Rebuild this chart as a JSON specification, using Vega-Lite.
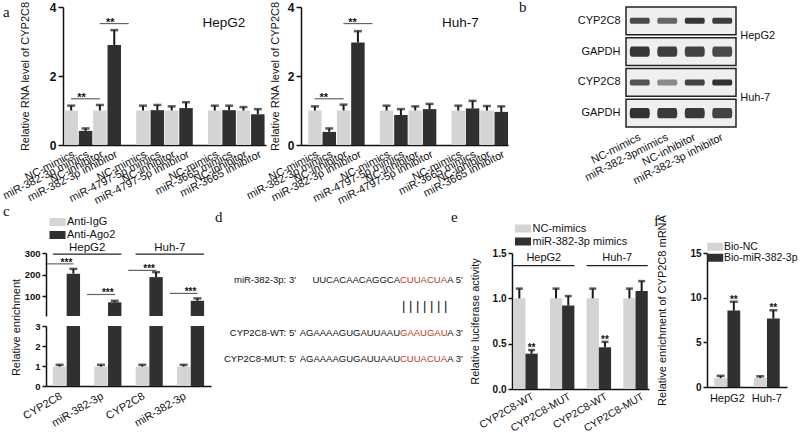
{
"$schema": "https://vega.github.io/schema/vega-lite/v6.json",
"padding": {"left": 0, "top": 0, "right": 0, "bottom": 0},
"config": {
  "view": {"stroke": null},
  "font": "Liberation Sans",
  "axis": {"labelFont": "Liberation Sans", "titleFont": "Liberation Sans", "labelColor": "#111", "titleColor": "#111", "domainColor": "#111", "tickColor": "#111", "domainWidth": 1.5, "tickWidth": 1.5, "grid": false, "titleFontWeight": "normal", "titleFontSize": 11, "labelFontSize": 11},
  "legend": {"labelFont": "Liberation Sans", "labelColor": "#111", "labelFontSize": 11},
  "title": {"font": "Liberation Serif", "fontSize": 15, "fontWeight": "normal", "anchor": "start", "frame": "group", "color": "#111", "offset": 0, "baseline": "alphabetic"},
  "text": {"font": "Liberation Sans", "color": "#111"}
},
"bounds": "flush",
"spacing": 246,
"resolve": {"scale": {"color": "independent", "shape": "independent", "opacity": "independent"}, "legend": {"color": "independent"}},
"vconcat": [
 {"bounds": "flush", "spacing": 0,
  "resolve": {"scale": {"color": "independent", "shape": "independent", "opacity": "independent"}, "legend": {"color": "independent"}},
  "hconcat": [
  {"width": 17, "height": 138, "data": {"values": [{"t": ""}]}, "mark": "text", "encoding": {"text": {"field": "t"}}},
  {
    "width": 203, "height": 138,
    "title": {"text": "a", "dx": -60, "dy": 22.5},
    "data": {"values": [
      {"k":"g1|NC-mimics","cond":"NC","v":1.0,"hi":1.14},
      {"k":"g1|miR-382-3p mimics","cond":"miRNA","v":0.41,"hi":0.48},
      {"k":"g1|NC-inhibitor","cond":"NC","v":1.0,"hi":1.16},
      {"k":"g1|miR-382-3p inhibitor","cond":"miRNA","v":2.9,"hi":3.33},
      {"k":"g2|NC-mimics","cond":"NC","v":1.0,"hi":1.14},
      {"k":"g2|miR-4797-5p mimics","cond":"miRNA","v":1.01,"hi":1.16},
      {"k":"g2|NC-inhibitor","cond":"NC","v":1.0,"hi":1.12},
      {"k":"g2|miR-4797-5p inhibitor","cond":"miRNA","v":1.07,"hi":1.24},
      {"k":"g3|NC-mimics","cond":"NC","v":1.0,"hi":1.14},
      {"k":"g3|miR-3665 mimics","cond":"miRNA","v":1.01,"hi":1.14},
      {"k":"g3|NC-inhibitor","cond":"NC","v":1.0,"hi":1.1},
      {"k":"g3|miR-3665 inhibitor","cond":"miRNA","v":0.89,"hi":1.04}
    ]},
    "layer": [
      {"mark": {"type": "bar"}, "encoding": {
        "x": {"field": "k", "type": "nominal", "scale": {"domain": ["g1|NC-mimics","g1|miR-382-3p mimics","g1|NC-inhibitor","g1|miR-382-3p inhibitor","gap1|","g2|NC-mimics","g2|miR-4797-5p mimics","g2|NC-inhibitor","g2|miR-4797-5p inhibitor","gap2|","g3|NC-mimics","g3|miR-3665 mimics","g3|NC-inhibitor","g3|miR-3665 inhibitor"], "paddingInner": 0.06, "paddingOuter": 0.1}, "axis": {"title": null, "labelExpr": "split(datum.value,'|')[1]", "labelAngle": -27, "labelAlign": "right", "labelBaseline": "top", "ticks": false, "tickSize": 0, "labelPadding": 3, "labelFontSize": 11}},
        "y": {"field": "v", "type": "quantitative", "scale": {"domain": [0, 4], "nice": false}, "axis": {"title": "Relative RNA level of CYP2C8", "values": [0,1,2,3,4], "labelFontSize": 12, "labelFontWeight": "bold", "tickSize": 5, "labelPadding": 2, "titlePadding": 19}},
        "color": {"field": "cond", "type": "nominal", "scale": {"domain": ["NC","miRNA"], "range": ["#d4d4d4","#303030"]}, "legend": null}
      }},
      {"mark": {"type": "rule", "strokeWidth": 2, "color": "#1a1a1a"}, "encoding": {
        "x": {"field": "k", "type": "nominal"}, "y": {"field": "v", "type": "quantitative"}, "y2": {"field": "hi"}}},
      {"mark": {"type": "tick", "size": 8, "thickness": 2.5, "color": "#1a1a1a"}, "encoding": {
        "x": {"field": "k", "type": "nominal"}, "y": {"field": "hi", "type": "quantitative"}}},
      {"data": {"values": [{"k": "g1|miR-382-3p mimics", "sy": 1.34, "s": "**"}, {"k": "g1|miR-382-3p inhibitor", "sy": 3.52, "s": "**"}]}, "layer": [
        {"mark": {"type": "tick", "size": 29, "thickness": 1.2, "color": "#222"}, "encoding": {"x": {"field": "k", "type": "nominal", "bandPosition": 0.2}, "y": {"field": "sy", "type": "quantitative"}}},
        {"mark": {"type": "text", "fontSize": 11, "fontWeight": "bold", "baseline": "alphabetic", "dy": 2, "color": "#111"}, "encoding": {"x": {"field": "k", "type": "nominal", "bandPosition": 0.2}, "y": {"field": "sy", "type": "quantitative"}, "text": {"field": "s"}}}
      ]},
      {"data": {"values": [{"cell": "HepG2"}]}, "mark": {"type": "text", "fontSize": 13.5, "baseline": "middle", "color": "#111"}, "encoding": {"x": {"datum": "g3|NC-mimics", "bandPosition": 1.18}, "y": {"datum": 3.55}, "text": {"field": "cell"}}}
    ]
  },
  {"width": 35, "height": 138, "data": {"values": [{"t": ""}]}, "mark": "text", "encoding": {"text": {"field": "t"}}},
  {
    "width": 207, "height": 138,
    "data": {"values": [
      {"k":"g1|NC-mimics","cond":"NC","v":1.0,"hi":1.12},
      {"k":"g1|miR-382-3p mimics","cond":"miRNA","v":0.38,"hi":0.48},
      {"k":"g1|NC-inhibitor","cond":"NC","v":1.0,"hi":1.17},
      {"k":"g1|miR-382-3p inhibitor","cond":"miRNA","v":2.97,"hi":3.3},
      {"k":"g2|NC-mimics","cond":"NC","v":1.0,"hi":1.14},
      {"k":"g2|miR-4797-5p mimics","cond":"miRNA","v":0.87,"hi":1.04},
      {"k":"g2|NC-inhibitor","cond":"NC","v":1.0,"hi":1.12},
      {"k":"g2|miR-4797-5p inhibitor","cond":"miRNA","v":1.04,"hi":1.19},
      {"k":"g3|NC-mimics","cond":"NC","v":1.0,"hi":1.14},
      {"k":"g3|miR-3665 mimics","cond":"miRNA","v":1.06,"hi":1.28},
      {"k":"g3|NC-inhibitor","cond":"NC","v":1.0,"hi":1.13},
      {"k":"g3|miR-3665 inhibitor","cond":"miRNA","v":0.96,"hi":1.12}
    ]},
    "layer": [
      {"mark": {"type": "bar"}, "encoding": {
        "x": {"field": "k", "type": "nominal", "scale": {"domain": ["g1|NC-mimics","g1|miR-382-3p mimics","g1|NC-inhibitor","g1|miR-382-3p inhibitor","gap1|","g2|NC-mimics","g2|miR-4797-5p mimics","g2|NC-inhibitor","g2|miR-4797-5p inhibitor","gap2|","g3|NC-mimics","g3|miR-3665 mimics","g3|NC-inhibitor","g3|miR-3665 inhibitor"], "paddingInner": 0.06, "paddingOuter": 0.25, "align": 1}, "axis": {"title": null, "labelExpr": "split(datum.value,'|')[1]", "labelAngle": -27, "labelAlign": "right", "labelBaseline": "top", "ticks": false, "tickSize": 0, "labelPadding": 3, "labelFontSize": 11}},
        "y": {"field": "v", "type": "quantitative", "scale": {"domain": [0, 4], "nice": false}, "axis": {"title": "Relative RNA level of CYP2C8", "values": [0,1,2,3,4], "labelFontSize": 12, "labelFontWeight": "bold", "tickSize": 5, "labelPadding": 2, "titlePadding": 7}},
        "color": {"field": "cond", "type": "nominal", "scale": {"domain": ["NC","miRNA"], "range": ["#d4d4d4","#303030"]}, "legend": null}
      }},
      {"mark": {"type": "rule", "strokeWidth": 2, "color": "#1a1a1a"}, "encoding": {
        "x": {"field": "k", "type": "nominal"}, "y": {"field": "v", "type": "quantitative"}, "y2": {"field": "hi"}}},
      {"mark": {"type": "tick", "size": 8, "thickness": 2.5, "color": "#1a1a1a"}, "encoding": {
        "x": {"field": "k", "type": "nominal"}, "y": {"field": "hi", "type": "quantitative"}}},
      {"data": {"values": [{"k": "g1|miR-382-3p mimics", "sy": 1.34, "s": "**"}, {"k": "g1|miR-382-3p inhibitor", "sy": 3.52, "s": "**"}]}, "layer": [
        {"mark": {"type": "tick", "size": 29, "thickness": 1.2, "color": "#222"}, "encoding": {"x": {"field": "k", "type": "nominal", "bandPosition": 0.1}, "y": {"field": "sy", "type": "quantitative"}}},
        {"mark": {"type": "text", "fontSize": 11, "fontWeight": "bold", "baseline": "alphabetic", "dy": 2, "color": "#111"}, "encoding": {"x": {"field": "k", "type": "nominal", "bandPosition": 0.1}, "y": {"field": "sy", "type": "quantitative"}, "text": {"field": "s"}}}
      ]},
      {"data": {"values": [{"cell": "Huh-7"}]}, "mark": {"type": "text", "fontSize": 13.5, "baseline": "middle", "color": "#111"}, "encoding": {"x": {"datum": "g3|NC-mimics", "bandPosition": 0.65}, "y": {"datum": 3.55}, "text": {"field": "cell"}}}
    ]
  },
  {"width": 118, "height": 138, "data": {"values": [{"t": ""}]}, "mark": "text", "encoding": {"text": {"field": "t"}}},
  {
    "width": 110, "height": 120,
    "title": {"text": "b", "dx": -107, "dy": 13},
    "layer": [
      {"data": {"values": [{"row": "HepG2|CYP2C8"}, {"row": "HepG2|GAPDH"}, {"row": "Huh-7|CYP2C8"}, {"row": "Huh-7|GAPDH"}]},
       "mark": {"type": "rect", "fill": "#efefef", "stroke": "#222", "strokeWidth": 1.5},
       "encoding": {"y": {"field": "row", "type": "nominal", "scale": {"domain": ["HepG2|CYP2C8","HepG2|GAPDH","Huh-7|CYP2C8","Huh-7|GAPDH"], "paddingInner": 0.1, "paddingOuter": 0}, "axis": {"title": null, "labelExpr": "split(datum.value,'|')[1]", "ticks": false, "tickSize": 0, "domain": false, "labelPadding": 6, "labelFontSize": 11}}}},
      {"data": {"values": [
        {"row":"HepG2|CYP2C8","protein":"CYP2C8","lane":"NC-mimics","intensity":0.82},
        {"row":"HepG2|CYP2C8","protein":"CYP2C8","lane":"miR-382-3pmimics","intensity":0.68},
        {"row":"HepG2|CYP2C8","protein":"CYP2C8","lane":"NC-inhibitor","intensity":0.92},
        {"row":"HepG2|CYP2C8","protein":"CYP2C8","lane":"miR-382-3p inhibitor","intensity":0.88},
        {"row":"HepG2|GAPDH","protein":"GAPDH","lane":"NC-mimics","intensity":0.92},
        {"row":"HepG2|GAPDH","protein":"GAPDH","lane":"miR-382-3pmimics","intensity":0.88},
        {"row":"HepG2|GAPDH","protein":"GAPDH","lane":"NC-inhibitor","intensity":0.86},
        {"row":"HepG2|GAPDH","protein":"GAPDH","lane":"miR-382-3p inhibitor","intensity":0.82},
        {"row":"Huh-7|CYP2C8","protein":"CYP2C8","lane":"NC-mimics","intensity":0.78},
        {"row":"Huh-7|CYP2C8","protein":"CYP2C8","lane":"miR-382-3pmimics","intensity":0.5},
        {"row":"Huh-7|CYP2C8","protein":"CYP2C8","lane":"NC-inhibitor","intensity":0.86},
        {"row":"Huh-7|CYP2C8","protein":"CYP2C8","lane":"miR-382-3p inhibitor","intensity":0.95},
        {"row":"Huh-7|GAPDH","protein":"GAPDH","lane":"NC-mimics","intensity":0.95},
        {"row":"Huh-7|GAPDH","protein":"GAPDH","lane":"miR-382-3pmimics","intensity":0.9},
        {"row":"Huh-7|GAPDH","protein":"GAPDH","lane":"NC-inhibitor","intensity":0.9},
        {"row":"Huh-7|GAPDH","protein":"GAPDH","lane":"miR-382-3p inhibitor","intensity":0.86}
       ]},
       "mark": {"type": "point", "filled": true, "size": 400, "color": "#262626", "strokeWidth": 0},
       "encoding": {
         "x": {"field": "lane", "type": "nominal", "scale": {"domain": ["NC-mimics","miR-382-3pmimics","NC-inhibitor","miR-382-3p inhibitor"], "paddingInner": 0, "paddingOuter": 0.5}, "axis": {"title": null, "labelAngle": -27, "labelAlign": "right", "labelBaseline": "top", "labelOffset": -3, "ticks": false, "tickSize": 0, "domain": false, "labelPadding": 4, "labelFontSize": 11}},
         "y": {"field": "row", "type": "nominal"},
         "shape": {"field": "protein", "type": "nominal", "scale": {"domain": ["CYP2C8","GAPDH"], "range": ["M-0.85,-0.3L0.85,-0.3Q1,-0.3 1,0Q1,0.3 0.85,0.3L-0.85,0.3Q-1,0.3 -1,0Q-1,-0.3 -0.85,-0.3Z", "M-0.8,-0.52L0.8,-0.52Q1,-0.52 1,0Q1,0.52 0.8,0.52L-0.8,0.52Q-1,0.52 -1,0Q-1,-0.52 -0.8,-0.52Z"]}, "legend": null},
         "opacity": {"field": "intensity", "type": "quantitative", "scale": {"domain": [0, 1], "range": [0, 1]}, "legend": null}
       }},
      {"data": {"values": [{"row": "HepG2|CYP2C8", "cell": "HepG2"}, {"row": "Huh-7|CYP2C8", "cell": "Huh-7"}]},
       "mark": {"type": "text", "align": "left", "baseline": "middle", "fontSize": 11, "dx": 18, "color": "#111"},
       "encoding": {"x": {"datum": "miR-382-3p inhibitor", "bandPosition": 1}, "y": {"field": "row", "type": "nominal", "bandPosition": 1.05}, "text": {"field": "cell"}}}
    ]
  }
 ]},
 {"bounds": "flush", "spacing": 0,
  "resolve": {"scale": {"color": "independent"}, "legend": {"color": "independent"}},
  "hconcat": [
  {
    "width": 165, "height": 133,
    "title": {"text": "c", "dx": -43, "dy": 6.5},
    "data": {"values": [
      {"k":"HepG2|CYP2C8|IgG","ab":"Anti-IgG","v":0.97,"hi":1.06},
      {"k":"HepG2|CYP2C8|Ago2","ab":"Anti-Ago2","v":205,"hi":227},
      {"k":"HepG2|miR-382-3p|IgG","ab":"Anti-IgG","v":0.97,"hi":1.06},
      {"k":"HepG2|miR-382-3p|Ago2","ab":"Anti-Ago2","v":73,"hi":80},
      {"k":"Huh-7|CYP2C8|IgG","ab":"Anti-IgG","v":0.97,"hi":1.06},
      {"k":"Huh-7|CYP2C8|Ago2","ab":"Anti-Ago2","v":189,"hi":212},
      {"k":"Huh-7|miR-382-3p|IgG","ab":"Anti-IgG","v":0.97,"hi":1.06},
      {"k":"Huh-7|miR-382-3p|Ago2","ab":"Anti-Ago2","v":80,"hi":91}
    ]},
    "layer": [
      {"layer": [
        {"mark": {"type": "bar"}, "encoding": {
          "x": {"field": "k", "type": "nominal", "scale": {"domain": ["HepG2|CYP2C8|IgG","HepG2|CYP2C8|Ago2","s1","HepG2|miR-382-3p|IgG","HepG2|miR-382-3p|Ago2","s2","Huh-7|CYP2C8|IgG","Huh-7|CYP2C8|Ago2","s3","Huh-7|miR-382-3p|IgG","Huh-7|miR-382-3p|Ago2"], "paddingInner": 0.03, "paddingOuter": 0.5}, "axis": {"title": null, "labelExpr": "split(datum.value,'|')[2] === 'Ago2' ? split(datum.value,'|')[1] : ''", "labelOffset": -15, "labelAngle": -30, "labelAlign": "right", "labelBaseline": "top", "ticks": false, "tickSize": 0, "labelPadding": 4, "labelFontSize": 11}},
          "y": {"field": "v", "type": "quantitative", "scale": {"domain": [0, 3], "range": [133, 73], "clamp": true, "nice": false, "zero": false}, "axis": {"orient": "left", "values": [0,1,2,3], "title": "Relative enrichment", "titleY": 74, "titlePadding": 13, "labelFontSize": 9.5, "labelFontWeight": "bold", "tickSize": 4, "labelPadding": 2}},
          "color": {"field": "ab", "type": "nominal", "scale": {"domain": ["Anti-IgG","Anti-Ago2"], "range": ["#d4d4d4","#303030"]}, "legend": {"orient": "none", "legendX": 6, "legendY": -36.5, "title": null, "symbolType": "M-1.6,-0.8H1.6V0.8H-1.6Z", "symbolSize": 100, "symbolStrokeWidth": 0, "labelFontSize": 11, "labelOffset": 4, "rowPadding": 1, "padding": 0}}
        }},
        {"transform": [{"filter": "datum.ab === 'Anti-IgG'"}], "mark": {"type": "rule", "strokeWidth": 2, "color": "#1a1a1a"}, "encoding": {
          "x": {"field": "k", "type": "nominal"}, "y": {"field": "v", "type": "quantitative"}, "y2": {"field": "hi"}}},
        {"transform": [{"filter": "datum.ab === 'Anti-IgG'"}], "mark": {"type": "tick", "size": 8, "thickness": 2.5, "color": "#1a1a1a"}, "encoding": {
          "x": {"field": "k", "type": "nominal"}, "y": {"field": "hi", "type": "quantitative"}}}
      ]},
      {"layer": [
        {"transform": [{"filter": "datum.ab === 'Anti-Ago2'"}], "mark": {"type": "bar"}, "encoding": {
          "x": {"field": "k", "type": "nominal"},
          "y": {"field": "v", "type": "quantitative", "scale": {"domain": [10, 300], "range": [63, 0], "nice": false, "zero": false}, "axis": {"orient": "left", "values": [100,200,300], "title": null, "labelFontSize": 9.5, "labelFontWeight": "bold", "tickSize": 4, "labelPadding": 2}},
          "y2": {"datum": 10},
          "color": {"field": "ab", "type": "nominal"}
        }},
        {"transform": [{"filter": "datum.ab === 'Anti-Ago2'"}], "mark": {"type": "rule", "strokeWidth": 2, "color": "#1a1a1a"}, "encoding": {
          "x": {"field": "k", "type": "nominal"}, "y": {"field": "v", "type": "quantitative"}, "y2": {"field": "hi"}}},
        {"transform": [{"filter": "datum.ab === 'Anti-Ago2'"}], "mark": {"type": "tick", "size": 8, "thickness": 2.5, "color": "#1a1a1a"}, "encoding": {
          "x": {"field": "k", "type": "nominal"}, "y": {"field": "hi", "type": "quantitative"}}},
        {"data": {"values": [
          {"k":"HepG2|CYP2C8|IgG","sy":250,"s":"***"},
          {"k":"HepG2|miR-382-3p|IgG","sy":109,"s":"***"},
          {"k":"Huh-7|CYP2C8|IgG","sy":220,"s":"***"},
          {"k":"Huh-7|miR-382-3p|IgG","sy":114,"s":"***"}
        ]}, "layer": [
          {"mark": {"type": "tick", "size": 28, "thickness": 1.2, "color": "#222"}, "encoding": {"x": {"field": "k", "type": "nominal", "bandPosition": 1.015}, "y": {"field": "sy", "type": "quantitative"}}},
          {"mark": {"type": "text", "fontSize": 10, "fontWeight": "bold", "baseline": "alphabetic", "dy": 2, "color": "#111"}, "encoding": {"x": {"field": "k", "type": "nominal", "bandPosition": 1.015}, "y": {"field": "sy", "type": "quantitative"}, "text": {"field": "s"}}}
        ]},
        {"data": {"values": [
          {"cell":"HepG2","from":"HepG2|CYP2C8|IgG","to":"HepG2|miR-382-3p|Ago2","mid":"s1"},
          {"cell":"Huh-7","from":"Huh-7|CYP2C8|IgG","to":"Huh-7|miR-382-3p|Ago2","mid":"s3"}
        ]}, "layer": [
          {"mark": {"type": "rule", "strokeWidth": 1.2, "color": "#222"}, "encoding": {"x": {"field": "from", "type": "nominal", "bandPosition": 0}, "x2": {"field": "to", "bandPosition": 1}, "y": {"datum": 295}}},
          {"mark": {"type": "text", "fontSize": 11.5, "baseline": "bottom", "dy": -1, "color": "#111"}, "encoding": {"x": {"field": "mid", "type": "nominal"}, "y": {"datum": 295}, "text": {"field": "cell"}}}
        ]}
      ]}
    ],
    "resolve": {"scale": {"y": "independent"}, "axis": {"y": "independent"}}
  },
  {"width": 85, "height": 133, "data": {"values": [{"t": ""}]}, "mark": "text", "encoding": {"text": {"field": "t"}}},
  {
    "width": 104, "height": 133,
    "title": {"text": "d", "dx": -81, "dy": -24},
    "data": {"values": [
      {"line":"miR","anchor":"name","part":"label","txt":"miR-382-3p: 3'"},
      {"line":"miR","anchor":"site","part":"prefix","txt":"UUCACAACAGGCA"},
      {"line":"miR","anchor":"site","part":"seed","txt":"CUUACUA"},
      {"line":"miR","anchor":"site","part":"rest","txt":"A  5'"},
      {"line":"pair","anchor":"site","part":"pair","txt":"| | | | | | |"},
      {"line":"WT","anchor":"name","part":"label","txt":"CYP2C8-WT: 5'"},
      {"line":"WT","anchor":"site","part":"prefix","txt":"AGAAAAGUGAUUAAU"},
      {"line":"WT","anchor":"site","part":"seed","txt":"GAAUGAU"},
      {"line":"WT","anchor":"site","part":"rest","txt":"A  3'"},
      {"line":"MUT","anchor":"name","part":"label","txt":"CYP2C8-MUT: 5'"},
      {"line":"MUT","anchor":"site","part":"prefix","txt":"AGAAAAGUGAUUAAU"},
      {"line":"MUT","anchor":"site","part":"seed","txt":"CUUACUA"},
      {"line":"MUT","anchor":"site","part":"rest","txt":"A  3'"}
    ]},
    "encoding": {
      "x": {"field": "anchor", "type": "nominal", "scale": {"type": "point", "domain": ["name","site"], "padding": 0}, "axis": null},
      "y": {"field": "line", "type": "nominal", "scale": {"type": "point", "domain": ["miR","pair","WT","MUT"], "padding": 2.71}, "axis": null},
      "text": {"field": "txt"}
    },
    "layer": [
      {"transform": [{"filter": "datum.part === 'label' || datum.part === 'prefix'"}], "mark": {"type": "text", "align": "right", "baseline": "middle", "fontSize": 9.5, "color": "#111"}},
      {"transform": [{"filter": "datum.part === 'seed'"}], "mark": {"type": "text", "align": "left", "baseline": "middle", "fontSize": 9.5, "color": "#c0392b"}},
      {"transform": [{"filter": "datum.part === 'rest'"}], "mark": {"type": "text", "align": "left", "baseline": "middle", "fontSize": 9.5, "dx": 47.2, "color": "#111"}},
      {"transform": [{"filter": "datum.part === 'pair'"}], "mark": {"type": "text", "align": "left", "baseline": "middle", "fontSize": 13, "dx": 2, "color": "#111"}}
    ]
  },
  {"width": 112, "height": 133, "title": {"text": "e", "dx": 51, "dy": -24}, "data": {"values": [{"t": ""}]}, "mark": "text", "encoding": {"text": {"field": "t"}}},
  {
    "width": 137, "height": 136,
    "data": {"values": [
      {"k":"HepG2|CYP2C8-WT|NC","cond":"NC-mimics","v":1.0,"hi":1.107,"sig":""},
      {"k":"HepG2|CYP2C8-WT|miR","cond":"miR-382-3p mimics","v":0.39,"hi":0.43,"sig":"**"},
      {"k":"HepG2|CYP2C8-MUT|NC","cond":"NC-mimics","v":1.0,"hi":1.107,"sig":""},
      {"k":"HepG2|CYP2C8-MUT|miR","cond":"miR-382-3p mimics","v":0.92,"hi":1.025,"sig":""},
      {"k":"Huh-7|CYP2C8-WT|NC","cond":"NC-mimics","v":1.0,"hi":1.107,"sig":""},
      {"k":"Huh-7|CYP2C8-WT|miR","cond":"miR-382-3p mimics","v":0.46,"hi":0.52,"sig":"**"},
      {"k":"Huh-7|CYP2C8-MUT|NC","cond":"NC-mimics","v":1.0,"hi":1.107,"sig":""},
      {"k":"Huh-7|CYP2C8-MUT|miR","cond":"miR-382-3p mimics","v":1.08,"hi":1.19,"sig":""}
    ]},
    "layer": [
      {"mark": {"type": "bar"}, "encoding": {
        "x": {"field": "k", "type": "nominal", "scale": {"domain": ["HepG2|CYP2C8-WT|NC","HepG2|CYP2C8-WT|miR","s1","HepG2|CYP2C8-MUT|NC","HepG2|CYP2C8-MUT|miR","s2","Huh-7|CYP2C8-WT|NC","Huh-7|CYP2C8-WT|miR","s3","Huh-7|CYP2C8-MUT|NC","Huh-7|CYP2C8-MUT|miR"], "paddingInner": 0, "paddingOuter": 0.1}, "axis": {"title": null, "labelExpr": "split(datum.value,'|')[2] === 'miR' ? split(datum.value,'|')[1] : ''", "labelOffset": -1, "labelAngle": -30, "labelAlign": "right", "labelBaseline": "top", "ticks": false, "tickSize": 0, "labelPadding": 2, "labelFontSize": 10.5}},
        "y": {"field": "v", "type": "quantitative", "scale": {"domain": [0, 1.5], "nice": false}, "axis": {"values": [0, 0.5, 1.0, 1.5], "format": ".1f", "title": "Relative luciferase activity", "titlePadding": 12, "labelFontSize": 10, "labelFontWeight": "bold", "tickSize": 4, "labelPadding": 2}},
        "color": {"field": "cond", "type": "nominal", "scale": {"domain": ["NC-mimics","miR-382-3p mimics"], "range": ["#d4d4d4","#303030"]}, "legend": {"orient": "none", "legendX": 5.5, "legendY": -30, "title": null, "symbolType": "M-1.6,-0.8H1.6V0.8H-1.6Z", "symbolSize": 100, "symbolStrokeWidth": 0, "labelFontSize": 11, "labelOffset": 4, "rowPadding": 1, "padding": 0}}
      }},
      {"mark": {"type": "rule", "strokeWidth": 2, "color": "#1a1a1a"}, "encoding": {
        "x": {"field": "k", "type": "nominal"}, "y": {"field": "v", "type": "quantitative"}, "y2": {"field": "hi"}}},
      {"mark": {"type": "tick", "size": 7, "thickness": 2.5, "color": "#1a1a1a"}, "encoding": {
        "x": {"field": "k", "type": "nominal"}, "y": {"field": "hi", "type": "quantitative"}}},
      {"transform": [{"filter": "datum.sig !== ''"}], "mark": {"type": "text", "fontSize": 10, "fontWeight": "bold", "baseline": "alphabetic", "dy": 1, "color": "#111"}, "encoding": {
        "x": {"field": "k", "type": "nominal"}, "y": {"field": "hi", "type": "quantitative"}, "text": {"field": "sig"}}},
      {"data": {"values": [
        {"cell":"HepG2","from":"HepG2|CYP2C8-WT|NC","to":"HepG2|CYP2C8-MUT|miR","mid":"s1"},
        {"cell":"Huh-7","from":"Huh-7|CYP2C8-WT|NC","to":"Huh-7|CYP2C8-MUT|miR","mid":"s3"}
      ]}, "layer": [
        {"mark": {"type": "rule", "strokeWidth": 1.2, "color": "#222"}, "encoding": {"x": {"field": "from", "type": "nominal", "bandPosition": 0}, "x2": {"field": "to", "bandPosition": 1}, "y": {"datum": 1.36}}},
        {"mark": {"type": "text", "fontSize": 11, "baseline": "bottom", "dy": -3, "color": "#111"}, "encoding": {"x": {"field": "mid", "type": "nominal"}, "y": {"datum": 1.36}, "text": {"field": "cell"}}}
      ]}
    ]
  },
  {"width": 58, "height": 133, "data": {"values": [{"t": ""}]}, "mark": "text", "encoding": {"text": {"field": "t"}}},
  {
    "width": 80, "height": 134,
    "title": {"text": "f", "dx": -53, "dy": 18.5},
    "data": {"values": [
      {"k":"HepG2|NC","cond":"Bio-NC","v":1.0,"hi":1.25,"sig":""},
      {"k":"HepG2|miR","cond":"Bio-miR-382-3p","v":8.55,"hi":9.55,"sig":"**"},
      {"k":"Huh-7|NC","cond":"Bio-NC","v":1.0,"hi":1.2,"sig":""},
      {"k":"Huh-7|miR","cond":"Bio-miR-382-3p","v":7.67,"hi":8.6,"sig":"**"}
    ]},
    "layer": [
      {"mark": {"type": "bar"}, "encoding": {
        "x": {"field": "k", "type": "nominal", "scale": {"domain": ["HepG2|NC","HepG2|miR","s1","Huh-7|NC","Huh-7|miR"], "paddingInner": 0.03, "paddingOuter": 0.55}, "axis": {"title": null, "labelExpr": "split(datum.value,'|')[1] === 'miR' ? split(datum.value,'|')[0] : ''", "labelOffset": -6.5, "labelAngle": 0, "labelAlign": "center", "ticks": false, "tickSize": 0, "labelPadding": 5, "labelFontSize": 11}},
        "y": {"field": "v", "type": "quantitative", "scale": {"domain": [0, 15], "nice": false}, "axis": {"values": [0, 5, 10, 15], "title": "Relative enrichment of CYP2C8 mRNA", "titleY": 57, "titlePadding": 22, "labelFontSize": 10, "labelFontWeight": "bold", "tickSize": 4, "labelPadding": 2}},
        "color": {"field": "cond", "type": "nominal", "scale": {"domain": ["Bio-NC","Bio-miR-382-3p"], "range": ["#d4d4d4","#303030"]}, "legend": {"orient": "none", "legendX": 3, "legendY": -11.5, "title": null, "symbolType": "M-1.6,-0.8H1.6V0.8H-1.6Z", "symbolSize": 100, "symbolStrokeWidth": 0, "labelFontSize": 10.5, "labelOffset": 3.5, "rowPadding": 0, "padding": 0}}
      }},
      {"mark": {"type": "rule", "strokeWidth": 2, "color": "#1a1a1a"}, "encoding": {
        "x": {"field": "k", "type": "nominal"}, "y": {"field": "v", "type": "quantitative"}, "y2": {"field": "hi"}}},
      {"mark": {"type": "tick", "size": 8, "thickness": 2.5, "color": "#1a1a1a"}, "encoding": {
        "x": {"field": "k", "type": "nominal"}, "y": {"field": "hi", "type": "quantitative"}}},
      {"transform": [{"filter": "datum.sig !== ''"}], "mark": {"type": "text", "fontSize": 10, "fontWeight": "bold", "baseline": "alphabetic", "dy": 1, "color": "#111"}, "encoding": {
        "x": {"field": "k", "type": "nominal"}, "y": {"field": "hi", "type": "quantitative"}, "text": {"field": "sig"}}}
    ]
  }
 ]}
]
}
